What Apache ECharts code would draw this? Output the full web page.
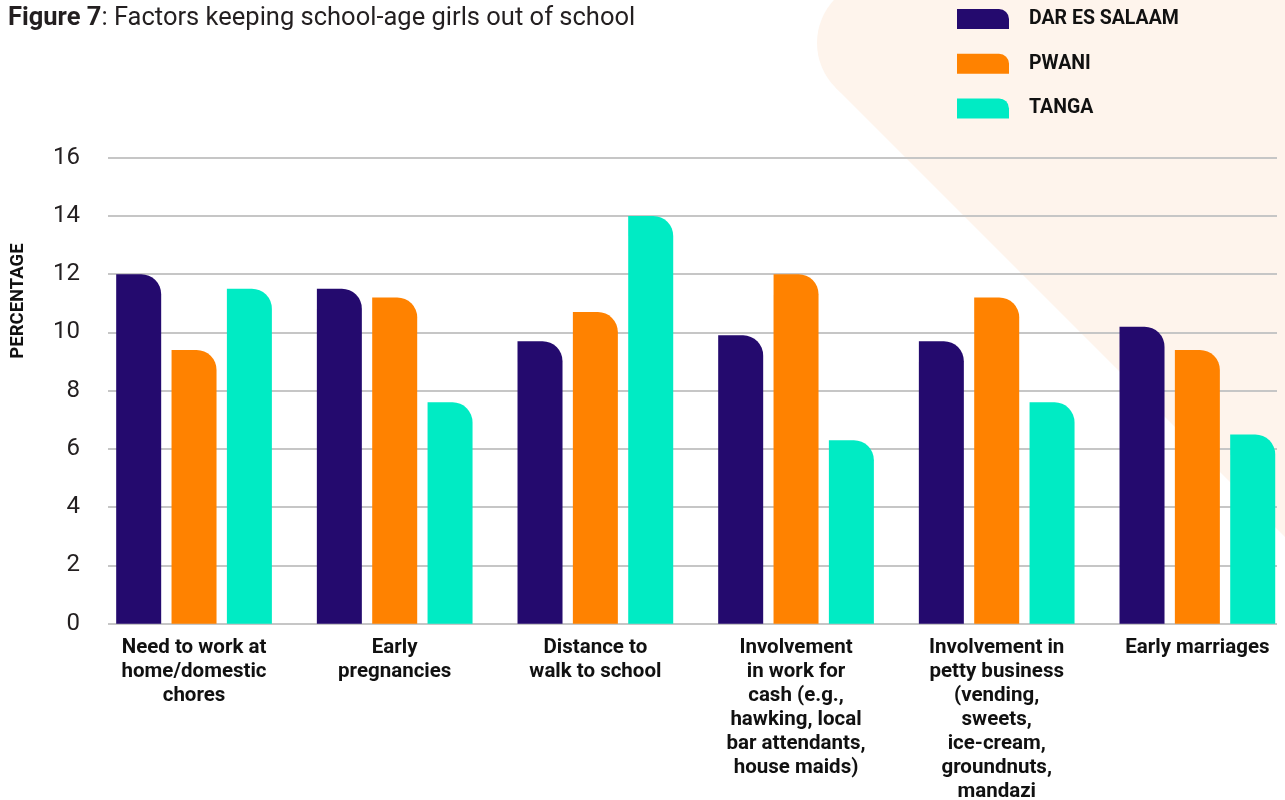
<!DOCTYPE html>
<html>
<head>
<meta charset="utf-8">
<script src="https://cdn.jsdelivr.net/npm/echarts@6/dist/echarts.min.js"></script>
<style>
  html, body { margin: 0; padding: 0; background: #ffffff; }
  #chart { width: 1285px; height: 800px; }
</style>
</head>
<body>
<div id="chart"></div>
<script>
// Factor categories (line breaks as printed under each group)
const categories = [
  'Need to work at\nhome/domestic\nchores',
  'Early\npregnancies',
  'Distance to\nwalk to school',
  'Involvement\nin work for\ncash (e.g.,\nhawking, local\nbar attendants,\nhouse maids)',
  'Involvement in\npetty business\n(vending,\nsweets,\nice-cream,\ngroundnuts,\nmandazi',
  'Early marriages'
];

// Percentage of respondents per region
const darEsSalaam = [12.0, 11.5, 9.7, 9.9, 9.7, 10.2];
const pwani       = [9.4, 11.2, 10.7, 12.0, 11.2, 9.4];
const tanga       = [11.5, 7.6, 14.0, 6.3, 7.6, 6.5];

const regionNames = ['DAR ES SALAAM', 'PWANI', 'TANGA'];
const regionColors = ['#240a6e', '#ff8200', '#00ebc4'];

// Y-axis scale
const yMin = 0, yMax = 16, yStep = 2;

const FONT = 'Roboto, "Noto Sans", sans-serif';
const plotTop = 157.7, plotBottom = 176.3;

// Bar shape: square except for a rounded top-right corner
const barRadius = [0, 20, 0, 0];
const legendIcon = 'path://M0,0 L42,0 A10,10 0 0 1 52,10 L52,20 L0,20 Z';

const chart = echarts.init(document.getElementById('chart'), null, { renderer: 'canvas' });

const seriesData = [darEsSalaam, pwani, tanga];
const peach = '#fef4ec';

chart.setOption({
  animation: false,
  backgroundColor: '#ffffff',
  title: {
    text: '{b|Figure 7}{n|: Factors keeping school-age girls out of school}',
    left: 8,
    top: 6,
    padding: 0,
    textStyle: {
      rich: {
        b: { fontFamily: FONT, fontSize: 25.5, fontWeight: 'bold', color: '#231f20' },
        n: { fontFamily: FONT, fontSize: 25.5, fontWeight: 'normal', color: '#231f20' }
      }
    }
  },
  graphic: [
    {
      // peach decorative band in the upper right corner: straight part
      type: 'polygon',
      z: -10,
      silent: true,
      shape: { points: [[835.5, 87.5], [1285, 537], [1285, 0], [834, 0], [880, 43]] },
      style: { fill: peach }
    },
    {
      // rounded end of the band
      type: 'circle',
      z: -10,
      silent: true,
      shape: { cx: 880, cy: 43, r: 63 },
      style: { fill: peach }
    },
    {
      type: 'text',
      x: 18.5,
      y: 301,
      rotation: Math.PI / 2,
      silent: true,
      style: {
        text: 'PERCENTAGE',
        fill: '#111111',
        font: 'bold 18.5px ' + FONT,
        textAlign: 'center',
        textVerticalAlign: 'middle'
      }
    }
  ],
  legend: {
    orient: 'vertical',
    left: 957,
    top: 9,
    padding: 0,
    itemWidth: 52,
    itemHeight: 20,
    itemGap: 24.7,
    icon: legendIcon,
    selectedMode: false,
    data: regionNames,
    textStyle: {
      fontFamily: FONT,
      fontSize: 19.5,
      fontWeight: 'bold',
      color: '#111111',
      padding: [0, 0, 0, 15]
    }
  },
  grid: [
    // bars
    { left: 93.7, width: 1204, top: plotTop, bottom: plotBottom, outerBoundsMode: 'none', containLabel: false },
    // gridlines and tick labels
    { left: 108, right: 8, top: plotTop, bottom: plotBottom, outerBoundsMode: 'none', containLabel: false }
  ],
  xAxis: [
    {
      type: 'category',
      gridIndex: 0,
      data: categories,
      axisLine: { show: false },
      axisTick: { show: false },
      axisLabel: {
        interval: 0,
        margin: 12,
        fontFamily: FONT,
        fontSize: 20.5,
        fontWeight: 'bold',
        lineHeight: 24,
        color: '#111111',
        align: 'center',
        hideOverlap: false
      }
    },
    { type: 'value', gridIndex: 1, show: false, min: 0, max: 1 }
  ],
  yAxis: [
    { type: 'value', gridIndex: 0, min: yMin, max: yMax, interval: yStep, show: false, splitLine: { show: false } },
    {
      type: 'value',
      gridIndex: 1,
      min: yMin,
      max: yMax,
      interval: yStep,
      axisLine: { show: false },
      axisTick: { show: false },
      axisLabel: {
        margin: 28,
        fontFamily: FONT,
        fontSize: 24,
        color: '#231f20'
      },
      splitLine: { lineStyle: { color: '#c6c6c6', width: 2 } }
    }
  ],
  series: regionNames.map((name, i) => ({
    name: name,
    type: 'bar',
    xAxisIndex: 0,
    yAxisIndex: 0,
    data: seriesData[i],
    barWidth: 45,
    barGap: '23%',
    itemStyle: { color: regionColors[i], borderRadius: barRadius }
  }))
});
</script>
</body>
</html>
